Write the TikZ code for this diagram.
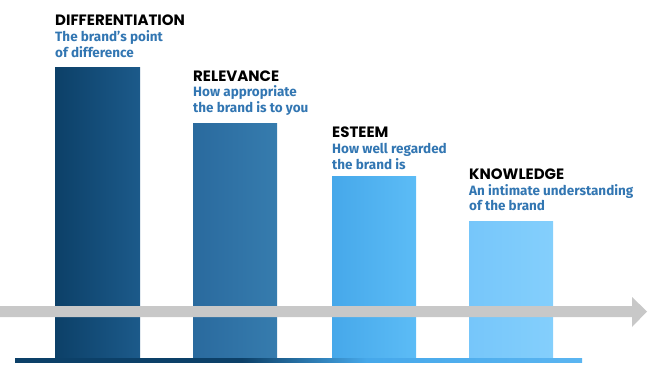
\documentclass[tikz,border=0pt]{standalone}
\usepackage{fontspec}
\setmainfont{Fira Sans}
\newfontfamily\headfont{Poppins}
\definecolor{navyL}{RGB}{12,64,104}
\definecolor{navyR}{RGB}{28,90,138}
\definecolor{midL}{RGB}{42,106,158}
\definecolor{midR}{RGB}{54,124,174}
\definecolor{skyL}{RGB}{70,168,234}
\definecolor{skyR}{RGB}{92,188,246}
\definecolor{paleL}{RGB}{118,198,250}
\definecolor{paleR}{RGB}{132,207,252}
\definecolor{subblue}{RGB}{50,118,178}
\definecolor{axisgray}{RGB}{200,200,200}
\pgfdeclarehorizontalshading{baseshade}{100bp}{color(0bp)=(navyL); color(45bp)=(navyL); color(56bp)=(skyL); color(100bp)=(paleL)}
\newcommand{\headline}[1]{\textcolor{black}{\headfont\fontsize{15}{15.8}\selectfont #1}}
\tikzset{%
  label/.style = {anchor=base west, align=left, inner sep=0pt,%
                  font=\bfseries\fontsize{13.5}{15.8}\selectfont, text=subblue},%
  bar/.style   = {draw=none}%
}

\begin{document}
\begin{tikzpicture}[x=1pt,y=-1pt]
	\useasboundingbox (0,0) rectangle (650,366);
	% bars
	\shade[bar,left color=navyL,right color=navyR] (55,68) rectangle (140,360);
	\shade[bar,left color=midL,right color=midR] (193,124) rectangle (277,360);
	\shade[bar,left color=skyL,right color=skyR] (332,177) rectangle (416,360);
	\shade[bar,left color=paleL,right color=paleR] (469,221) rectangle (553,360);
	% base line
	\shade[shading=baseshade] (15,358) rectangle (582,362.5);
	% grey arrow
	\fill[axisgray] (0,306) -- (632,306) -- (632,297) -- (647,311.5) -- (632,327) -- (632,317) -- (0,317) -- cycle;
	% labels (anchored on the last line)
	\node[label] (diff) at (55,57.3) {\headline{DIFFERENTIATION}\\The brand's point\\of difference};
	\node[label] (rel) at (193,112.7) {\headline{RELEVANCE}\\How appropriate\\the brand is to you};
	\node[label] (est) at (332,169.3) {\headline{ESTEEM}\\How well regarded\\the brand is};
	\node[label] (know) at (469,211) {\headline{KNOWLEDGE}\\An intimate understanding\\of the brand};
\end{tikzpicture}
\end{document}
